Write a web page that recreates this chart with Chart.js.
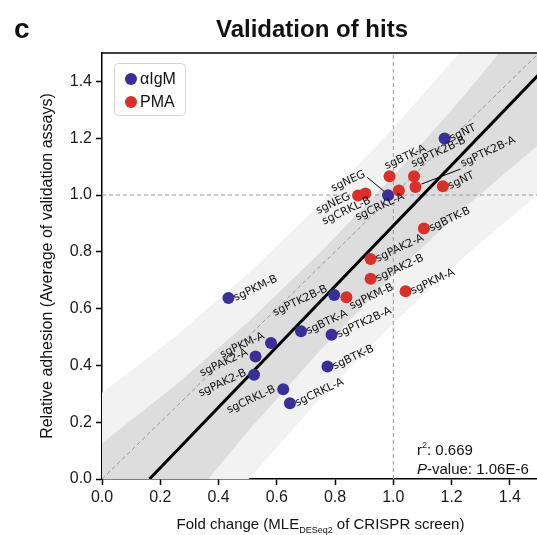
<!DOCTYPE html>
<html><head><meta charset="utf-8">
<script src="https://cdn.jsdelivr.net/npm/chart.js@4.4.1/dist/chart.umd.min.js"></script>
<style>
html,body{margin:0;padding:0;background:#fff;overflow:hidden;}
#wrap{width:545px;height:535px;position:relative;}
</style></head><body>
<div id="wrap"><canvas id="c"></canvas></div>
<script>
// ---------- data ----------
const igmNames = ['sgNT','sgNEG','sgPKM-B','sgPTK2B-B','sgBTK-A','sgPTK2B-A','sgPKM-A','sgPAK2-A','sgPAK2-B','sgBTK-B','sgCRKL-B','sgCRKL-A'];
const igmX = [1.176,0.982,0.434,0.797,0.683,0.788,0.580,0.527,0.522,0.774,0.622,0.645];
const igmY = [1.199,0.999,0.637,0.648,0.520,0.508,0.479,0.431,0.367,0.396,0.316,0.267];

const pmaNames = ['sgBTK-A','sgPTK2B-B','sgPTK2B-A','sgNT','sgCRKL-A','sgNEG','sgCRKL-B','sgBTK-B','sgPAK2-A','sgPAK2-B','sgPKM-B','sgPKM-A'];
const pmaX = [0.987,1.071,1.076,1.170,1.019,0.879,0.904,1.105,0.922,0.922,0.839,1.042];
const pmaY = [1.066,1.066,1.028,1.031,1.016,0.998,1.005,0.882,0.775,0.705,0.640,0.661];

const xTicks = [0.0,0.2,0.4,0.6,0.8,1.0,1.2,1.4];
const yTicks = [0.0,0.2,0.4,0.6,0.8,1.0,1.2,1.4];

const fitX = [0.163,1.5];
const fitY = [0.0,1.425];
const identityX = [0.0,1.5];
const identityY = [0.0,1.5];

const bandX = [0.0,0.25,0.5,0.75,1.0,1.25,1.5];
const predUpper = [0.303,0.500,0.722,0.968,1.236,1.528,1.845];
const predLower = [-0.651,-0.316,-0.004,0.284,0.548,0.789,1.005];
const confUpper = [0.126,0.328,0.551,0.798,1.066,1.358,1.671];
const confLower = [-0.474,-0.143,0.167,0.454,0.718,0.960,1.179];

const r2Text = '0.669';
const pText = '1.06E-6';
const seriesNames = ['\u03b1IgM','PMA'];
// ------------------------------------------------------------

const BLUE = '#3b2f97', RED = '#d8302a';
const FONT = '"Liberation Sans", Arial, sans-serif';
const LFONT = '"DejaVu Sans", sans-serif';

const pts = (xs, ys) => xs.map((x, i) => ({x, y: ys[i]}));

// label placement (pixel offsets from the dot centre)
const labelLayout = {
  igm: {
    'sgNEG': {dx:-22, dy:-19, align:'right', leader:[-4,-4,-21,-18]},
    'sgPTK2B-B': {dx:-6, dy:-4, align:'right'},
    'sgPKM-A': {dx:-6, dy:-5, align:'right'},
    'sgPAK2-A': {dx:-7, dy:-2, align:'right'},
    'sgPAK2-B': {dx:-7, dy:0, align:'right'},
    'sgCRKL-B': {dx:-7, dy:2, align:'right'}
  },
  pma: {
    'sgBTK-A': {dx:-3, dy:-7, align:'left'},
    'sgPTK2B-B': {dx:-1, dy:-9, align:'left'},
    'sgPTK2B-A': {dx:47, dy:-20, align:'left', leader:[6,-3,45,-18]},
    'sgCRKL-A': {dx:6, dy:8, align:'right'},
    'sgNEG': {dx:-7, dy:3, align:'right'},
    'sgCRKL-B': {dx:6, dy:9, align:'right'},
    'sgPKM-B': {dx:5, dy:12, align:'left'}
  }
};

const extras = {
  id: 'extras',
  afterDatasetsDraw(chart) {
    const ctx = chart.ctx, xs = chart.scales.x, ys = chart.scales.y, ca = chart.chartArea;
    ctx.save();
    ctx.beginPath(); ctx.rect(ca.left, ca.top, ca.right - ca.left, ca.bottom - ca.top); ctx.clip();
    const drawSet = (names, X, Y, key) => {
      names.forEach((n, i) => {
        const px = xs.getPixelForValue(X[i]), py = ys.getPixelForValue(Y[i]);
        const L = labelLayout[key][n] || {dx:7, dy:3, align:'left'};
        if (L.leader) {
          ctx.strokeStyle = '#000'; ctx.lineWidth = 1;
          ctx.beginPath(); ctx.moveTo(px + L.leader[0], py + L.leader[1]);
          ctx.lineTo(px + L.leader[2], py + L.leader[3]); ctx.stroke();
        }
        ctx.save();
        ctx.translate(px + L.dx, py + L.dy);
        ctx.rotate(-25 * Math.PI / 180);
        ctx.font = '11px ' + LFONT; ctx.fillStyle = '#111';
        ctx.textAlign = L.align; ctx.textBaseline = 'alphabetic';
        ctx.fillText(n, 0, 0);
        ctx.restore();
      });
    };
    drawSet(igmNames, igmX, igmY, 'igm');
    drawSet(pmaNames, pmaX, pmaY, 'pma');
    ctx.restore();
  },
  afterDraw(chart) {
    const ctx = chart.ctx, ca = chart.chartArea;
    ctx.save();
    // top spine
    ctx.strokeStyle = '#000'; ctx.lineWidth = 1.5;
    ctx.beginPath(); ctx.moveTo(ca.left - 0.75, ca.top); ctx.lineTo(ca.right, ca.top); ctx.stroke();
    // panel letter and title
    ctx.fillStyle = '#111';
    ctx.textBaseline = 'alphabetic';
    ctx.font = 'bold 28px ' + FONT; ctx.textAlign = 'left';
    ctx.fillText('c', 14, 38);
    ctx.font = 'bold 24px ' + FONT; ctx.textAlign = 'center';
    ctx.fillText('Validation of hits', 312, 37);
    // x-axis title with subscript
    const y0 = 529;
    const parts = [['Fold change (MLE', '15px'], ['DESeq2', '9px'], [' of CRISPR screen)', '15px']];
    let w = 0;
    parts.forEach(p => { ctx.font = p[1] + ' ' + FONT; w += ctx.measureText(p[0]).width; });
    let x = (ca.left + ca.right) / 2 - w / 2;
    ctx.textAlign = 'left';
    parts.forEach((p, i) => {
      ctx.font = p[1] + ' ' + FONT;
      ctx.fillText(p[0], x, i === 1 ? y0 + 4 : y0);
      x += ctx.measureText(p[0]).width;
    });
    // y-axis title
    ctx.save();
    ctx.translate(48, (ca.top + ca.bottom) / 2);
    ctx.rotate(-Math.PI / 2);
    ctx.font = '16px ' + FONT; ctx.textAlign = 'center'; ctx.textBaseline = 'middle';
    ctx.fillText('Relative adhesion (Average of validation assays)', 0, 0);
    ctx.restore();
    // r2 / p annotation
    ctx.textAlign = 'left'; ctx.textBaseline = 'alphabetic';
    ctx.font = '15px ' + FONT;
    ctx.fillText('r', 417, 455);
    let rw = ctx.measureText('r').width;
    ctx.font = '9px ' + FONT; ctx.fillText('2', 417 + rw, 448);
    let sw = ctx.measureText('2').width;
    ctx.font = '15px ' + FONT; ctx.fillText(': ' + r2Text, 417 + rw + sw, 455);
    ctx.font = 'italic 15px ' + FONT; ctx.fillText('P', 417, 474);
    const pw = ctx.measureText('P').width;
    ctx.font = '15px ' + FONT; ctx.fillText('-value: ' + pText, 417 + pw, 474);
    // legend
    const bx = 114, by = 63, bw = 71, bh = 52;
    ctx.fillStyle = 'rgba(255,255,255,0.85)';
    ctx.strokeStyle = '#d4d4d4'; ctx.lineWidth = 1;
    ctx.beginPath(); ctx.roundRect(bx + 0.5, by + 0.5, bw, bh, 4); ctx.fill(); ctx.stroke();
    [[BLUE, seriesNames[0], 79], [RED, seriesNames[1], 102]].forEach(it => {
      ctx.fillStyle = it[0];
      ctx.beginPath(); ctx.arc(131, by + (it[2] - 63), 6, 0, Math.PI * 2); ctx.fill();
      ctx.fillStyle = '#111'; ctx.font = '16px ' + FONT; ctx.textBaseline = 'middle';
      ctx.fillText(it[1], 140, by + (it[2] - 63) + 1);
    });
    ctx.restore();
  }
};

const lineDs = (data, opts) => Object.assign({
  data, showLine: true, pointRadius: 0, pointHoverRadius: 0, borderWidth: 0, tension: 0, fill: false
}, opts);

new Chart(document.getElementById('c'), {
  type: 'scatter',
  data: {
    datasets: [
      lineDs(pts(bandX, predUpper), {label:'pred-up', fill:'+1', backgroundColor:'#f2f2f2', order: 6}),
      lineDs(pts(bandX, predLower), {label:'pred-lo', order: 6}),
      lineDs(pts(bandX, confUpper), {label:'conf-up', fill:'+1', backgroundColor:'#dcdddc', order: 5}),
      lineDs(pts(bandX, confLower), {label:'conf-lo', order: 5}),
      lineDs(pts(identityX, identityY), {label:'identity', borderColor:'#9a9a9a', borderWidth:1, borderDash:[4,3], order: 4}),
      lineDs([{x:1,y:0},{x:1,y:1.5}], {label:'v1', borderColor:'#9a9a9a', borderWidth:1, borderDash:[4,3], order: 4}),
      lineDs([{x:0,y:1},{x:1.5,y:1}], {label:'h1', borderColor:'#9a9a9a', borderWidth:1, borderDash:[4,3], order: 4}),
      lineDs(pts(fitX, fitY), {label:'fit', borderColor:'#000', borderWidth:3, order: 3}),
      {label: seriesNames[0], data: pts(igmX, igmY), pointRadius: 6, pointHoverRadius: 6, backgroundColor: BLUE, borderColor: BLUE, borderWidth: 0, order: 1},
      {label: seriesNames[1], data: pts(pmaX, pmaY), pointRadius: 6, pointHoverRadius: 6, backgroundColor: RED, borderColor: RED, borderWidth: 0, order: 0}
    ]
  },
  options: {
    responsive: true, maintainAspectRatio: false, animation: false,
    layout: {padding: {top: 53, right: 5, left: 0, bottom: 0}},
    plugins: {legend: {display: false}, tooltip: {enabled: false}},
    scales: {
      x: {
        type: 'linear', min: 0, max: 1.5,
        afterBuildTicks: s => { s.ticks = xTicks.map(v => ({value: v})); },
        afterFit: s => { s.height = 56; },
        ticks: {callback: v => Number(v).toFixed(1), font: {size: 16, family: FONT}, color: '#1a1a1a', padding: 3, maxRotation: 0, autoSkip: false},
        grid: {drawOnChartArea: false, drawTicks: true, tickLength: 6, color: '#000', tickWidth: 1.5},
        border: {color: '#000', width: 1.5}
      },
      y: {
        type: 'linear', min: 0, max: 1.5,
        afterBuildTicks: s => { s.ticks = yTicks.map(v => ({value: v})); },
        afterFit: s => { s.width = 102; },
        ticks: {callback: v => Number(v).toFixed(1), font: {size: 16, family: FONT}, color: '#1a1a1a', padding: 4, autoSkip: false},
        grid: {drawOnChartArea: false, drawTicks: true, tickLength: 6, color: '#000', tickWidth: 1.5},
        border: {color: '#000', width: 1.5}
      }
    }
  },
  plugins: [extras]
});
</script>
</body></html>
